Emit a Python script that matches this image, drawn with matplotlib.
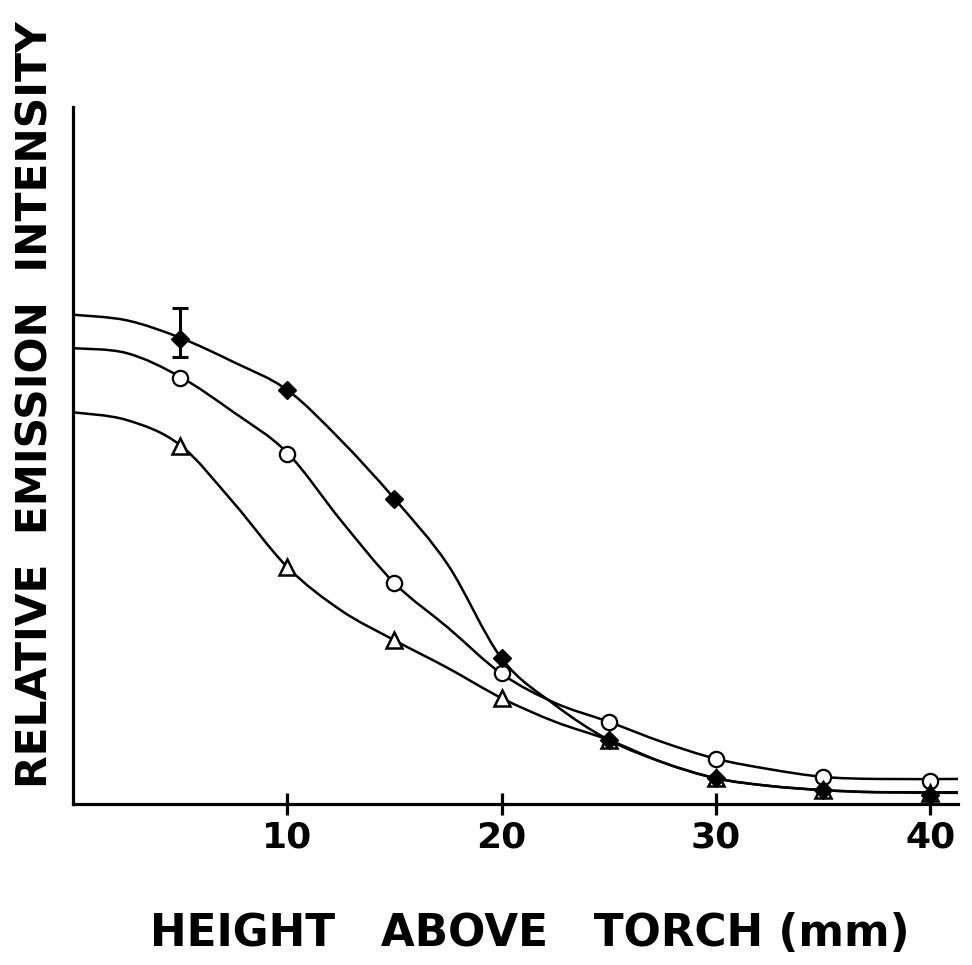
import numpy as np
import matplotlib
matplotlib.use('Agg')
import matplotlib.pyplot as plt
from matplotlib.path import Path
from matplotlib.patches import PathPatch

# curve outlines (x in mm)
curve_x = [0, 2.5, 5, 7.5, 10, 12.5, 15, 17.5, 20, 22.5, 25, 27.5, 30, 32.5, 35, 37.5, 41.3]
curve_diamond = [70.2, 69.4, 66.9, 63.4, 59.4, 52.2, 43.8, 34.3, 20.9, 14.2, 9.2, 6.0, 3.7, 2.6, 2.0, 1.7, 1.7]
curve_circle = [65.4, 64.7, 61.3, 56.2, 50.4, 40.7, 31.7, 25.3, 18.7, 14.5, 11.8, 8.9, 6.5, 5.0, 3.9, 3.6, 3.6]
curve_triangle = [56.2, 55.1, 51.5, 43.2, 34.0, 27.8, 23.5, 19.5, 15.2, 11.8, 9.2, 6.0, 3.7, 2.6, 2.0, 1.7, 1.6]

# measured points
heights = [5, 10, 15, 20, 25, 30, 35, 40]
diamond = [66.7, 59.4, 43.8, 20.9, 9.2, 3.7, 2.0, 1.3]
circle = [61.1, 50.2, 31.7, 18.8, 11.8, 6.5, 3.9, 3.3]
triangle = [51.4, 34.0, 23.5, 15.2, 9.2, 3.7, 2.0, 1.6]
err_low = 2.6
err_high = 4.5

xticks = [10, 20, 30, 40]


def smooth_curve(xs, ys):
    pts = np.column_stack([xs, ys])
    n = len(pts)
    verts = [pts[0]]
    codes = [Path.MOVETO]
    for i in range(n - 1):
        p0 = pts[max(i - 1, 0)]
        p1 = pts[i]
        p2 = pts[i + 1]
        p3 = pts[min(i + 2, n - 1)]
        verts += [p1 + (p2 - p0) / 6, p2 - (p3 - p1) / 6, p2]
        codes += [Path.CURVE4] * 3
    return Path(verts, codes)


fig = plt.figure(figsize=(9.72, 9.65), dpi=100)
ax = fig.add_axes([0.0751, 0.1668, 0.9105, 0.7223])

for ys in (curve_diamond, curve_circle, curve_triangle):
    ax.add_patch(PathPatch(smooth_curve(curve_x, ys), fill=False, lw=1.8, color='black'))

ax.errorbar([heights[0]], [diamond[0]], yerr=[[err_low], [err_high]], fmt='none',
            ecolor='black', elinewidth=2.2, capsize=6, capthick=2.2)
ax.plot(heights, circle, 'o', ms=11, mfc='white', mec='black', mew=1.6, zorder=3)
ax.plot(heights, triangle, '^', ms=12, mfc='white', mec='black', mew=1.8, zorder=3)
ax.plot(heights, diamond, 'D', ms=9.5, color='black', zorder=4)

ax.set_xlim(0, 41.3)
ax.set_ylim(0, 100)
ax.spines['top'].set_visible(False)
ax.spines['right'].set_visible(False)
ax.spines['left'].set_linewidth(2.3)
ax.spines['bottom'].set_linewidth(2.3)
ax.set_yticks([])
ax.set_xticks(xticks)
ax.set_xticklabels([str(t) for t in xticks], fontsize=26, fontweight='bold')
ax.tick_params(axis='x', direction='inout', length=16, width=2.3, pad=4)

fig.text(530 / 972, 1 - 934 / 965, 'HEIGHT   ABOVE   TORCH (mm)', fontsize=31.5,
         fontweight='bold', ha='center', va='center')
fig.text(36 / 972, 1 - 405 / 965, 'RELATIVE  EMISSION  INTENSITY', fontsize=30.5,
         fontweight='bold', rotation=90, ha='center', va='center')

fig.savefig('out.png', dpi=100)
